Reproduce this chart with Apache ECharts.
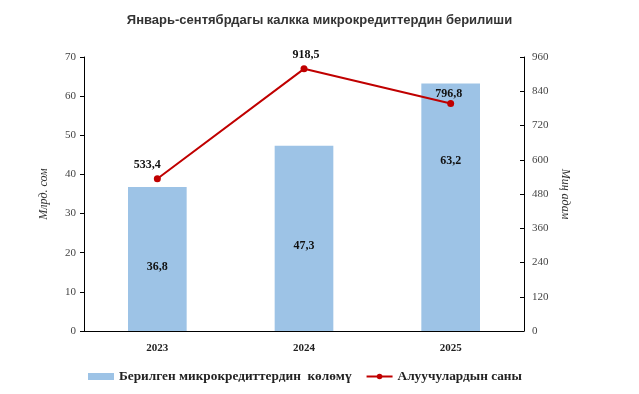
<!DOCTYPE html>
<html><head><meta charset="utf-8">
<script src="https://cdn.jsdelivr.net/npm/echarts@6/dist/echarts.min.js"></script>
<style>html,body{margin:0;padding:0;background:#fff}#c{width:639px;height:394px}</style>
</head><body><div id="c"></div>
<script>
const categories = ['2023', '2024', '2025'];
const loanVolume = [36.8, 47.3, 63.2];
const borrowers = [533.4, 918.5, 796.8];
const leftTicks = [0, 70, 10];
const rightTicks = [0, 960, 120];
const barLabelOffsets = [[0, 8], [0, 7], [0, -46]];
const lineLabelOffsets = [[-10, 0], [2, 0], [-2, 4]];

const fmt = v => String(v).replace('.', ',');
const serif = '"Liberation Serif", "Times New Roman", serif';
const chart = echarts.init(document.getElementById('c'));
chart.setOption({
  animation: false,
  title: {
    text: 'Январь-сентябрдагы калкка микрокредиттердин берилиши',
    left: 'center', top: 9,
    textStyle: { fontFamily: '"Liberation Sans", Arial, sans-serif', fontSize: 13, fontWeight: 'bold', color: '#333' }
  },
  legend: {
    bottom: 6, left: 83, itemGap: 14,
    textStyle: { fontFamily: serif, fontSize: 13.3, fontWeight: 'bold', color: '#222' },
    data: [
      { name: 'Берилген микрокредиттердин  көлөмү', icon: 'rect', itemStyle: { color: '#9DC3E6' } },
      { name: 'Алуучулардын саны' }
    ],
    itemWidth: 26, itemHeight: 7
  },
  grid: { left: 84, right: 115, top: 57, bottom: 63 },
  xAxis: {
    type: 'category', data: categories,
    axisLine: { lineStyle: { color: '#000', width: 1 } },
    axisTick: { show: false },
    axisLabel: { fontFamily: serif, fontWeight: 'bold', fontSize: 11, color: '#222', margin: 12 }
  },
  yAxis: [
    {
      type: 'value', min: leftTicks[0], max: leftTicks[1], interval: leftTicks[2],
      name: 'Млрд. сом', nameLocation: 'middle', nameGap: 34, nameRotate: 90,
      nameTextStyle: { fontFamily: serif, fontStyle: 'italic', fontSize: 12, color: '#333' },
      axisLine: { show: true, lineStyle: { color: '#000' } },
      axisTick: { show: true, length: 4, lineStyle: { color: '#000' } },
      splitLine: { show: false },
      axisLabel: { fontFamily: serif, fontSize: 11, color: '#444', margin: 8 }
    },
    {
      type: 'value', min: rightTicks[0], max: rightTicks[1], interval: rightTicks[2],
      name: 'Миң адам', nameLocation: 'middle', nameGap: 31, nameRotate: -90,
      nameTextStyle: { fontFamily: serif, fontStyle: 'italic', fontSize: 12, color: '#333' },
      axisLine: { show: true, lineStyle: { color: '#000' } },
      axisTick: { show: true, inside: true, length: 4, lineStyle: { color: '#000' } },
      splitLine: { show: false },
      axisLabel: { fontFamily: serif, fontSize: 11, color: '#444', margin: 8 }
    }
  ],
  series: [
    {
      name: 'Берилген микрокредиттердин  көлөмү', type: 'bar', yAxisIndex: 0,
      barWidth: '40%',
      itemStyle: { color: '#9DC3E6' },
      data: loanVolume.map((v, i) => ({
        value: v,
        label: { show: true, position: 'inside', offset: barLabelOffsets[i],
          formatter: p => fmt(p.value),
          fontFamily: serif, fontWeight: 'bold', fontSize: 12, color: '#111' }
      }))
    },
    {
      name: 'Алуучулардын саны', type: 'line', yAxisIndex: 1,
      symbol: 'circle', symbolSize: 7,
      lineStyle: { color: '#C00000', width: 2 },
      itemStyle: { color: '#C00000' },
      data: borrowers.map((v, i) => ({
        value: v,
        label: { show: true, position: 'top', distance: 4, offset: lineLabelOffsets[i],
          formatter: p => fmt(p.value),
          fontFamily: serif, fontWeight: 'bold', fontSize: 12, color: '#111' }
      }))
    }
  ]
});
</script></body></html>
